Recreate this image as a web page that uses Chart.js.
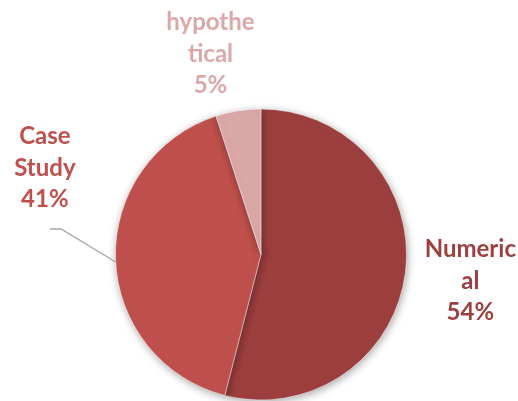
<!DOCTYPE html>
<html>
<head>
<meta charset="utf-8">
<script src="https://cdn.jsdelivr.net/npm/chart.js@4"></script>
<style>
html,body{margin:0;padding:0;background:#fff;}
#wrap{width:518px;height:401px;position:relative;}
</style>
</head>
<body>
<div id="wrap"><canvas id="c" width="518" height="401"></canvas></div>
<script>
const categories = ["Numerical", "Case Study", "hypothetical"];
const values = [54, 41, 5];
const labelLines = [["Numeric", "al", "54%"], ["Case", "Study", "41%"], ["hypothe", "tical", "5%"]];
const colors = ["#9E3F3F", "#C0504D", "#DBA8A8"];

const shadowPlugin = {
  id: 'shadow',
  beforeDatasetsDraw(chart) {
    const ctx = chart.ctx;
    ctx.save();
    ctx.shadowColor = 'rgba(0,0,0,0.35)';
    ctx.shadowBlur = 8;
    ctx.shadowOffsetX = 1;
    ctx.shadowOffsetY = 2;
  },
  afterDatasetsDraw(chart) {
    chart.ctx.restore();
  }
};

const labelPlugin = {
  id: 'sliceLabels',
  afterDraw(chart, args, opts) {
    const ctx = chart.ctx;
    const meta = chart.getDatasetMeta(0);
    ctx.save();
    ctx.font = opts.font;
    ctx.textAlign = 'center';
    ctx.textBaseline = 'middle';
    meta.data.forEach((arc, i) => {
      const mid = (arc.startAngle + arc.endAngle) / 2 + opts.angleShift[i];
      const r = arc.outerRadius * opts.radiusFactor[i];
      const cx = arc.x + Math.cos(mid) * r;
      const cy = arc.y + Math.sin(mid) * r;
      const lines = labelLines[i];
      ctx.fillStyle = colors[i];
      lines.forEach((t, k) => {
        ctx.fillText(t, cx, cy + (k - (lines.length - 1) / 2) * opts.lineHeight);
      });
    });
    // leader line for Case Study
    const arc = meta.data[1];
    const a = (arc.startAngle + arc.endAngle) / 2 - 0.02;
    const ex = arc.x + Math.cos(a) * arc.outerRadius;
    const ey = arc.y + Math.sin(a) * arc.outerRadius;
    ctx.strokeStyle = '#A6A6A6';
    ctx.lineWidth = 1.3;
    ctx.beginPath();
    ctx.moveTo(50, 229);
    ctx.lineTo(61, 229);
    ctx.lineTo(ex, ey);
    ctx.stroke();
    ctx.restore();
  }
};

new Chart(document.getElementById('c'), {
  type: 'pie',
  data: {
    labels: categories,
    datasets: [{
      data: values,
      backgroundColor: colors,
      borderColor: 'rgba(255,255,255,0.45)',
      borderWidth: 1
    }]
  },
  options: {
    responsive: false,
    animation: false,
    layout: { padding: { left: 115, right: 111, top: 108, bottom: 0 } },
    plugins: {
      legend: { display: false },
      tooltip: { enabled: false },
      sliceLabels: {
        font: 'bold 24px Lato',
        lineHeight: 31.5,
        radiusFactor: [1.45, 1.6, 1.42],
        angleShift: [0, 0.412, -0.09]
      }
    }
  },
  plugins: [shadowPlugin, labelPlugin]
});
</script>
</body>
</html>
